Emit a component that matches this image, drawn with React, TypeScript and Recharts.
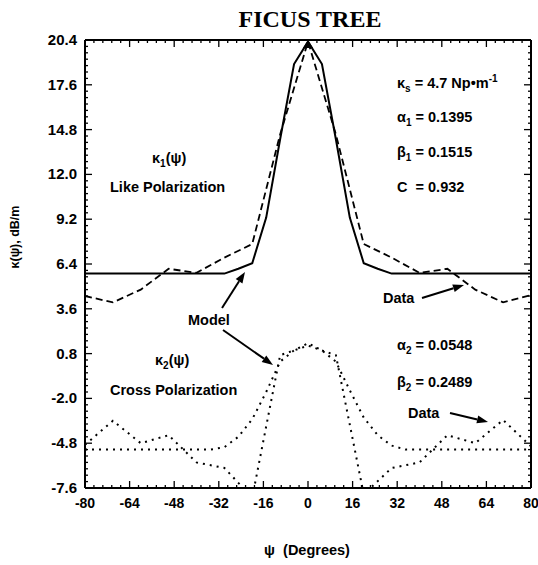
import React from 'react';
import { LineChart, Line, XAxis, YAxis, ReferenceDot } from 'recharts';

// ---------- data ----------
const likeModelAngles = [-80, -30, -25, -20, -15, -10, -5, 0, 5, 10, 15, 20, 25, 30, 80];
const likeModelValues = [5.8, 5.8, 6.1, 6.45, 9.3, 14.2, 18.9, 20.3, 18.9, 14.2, 9.3, 6.45, 6.1, 5.8, 5.8];

const dataAngles = [-80, -70, -60, -50, -40, -30, -20, -10, 0, 10, 20, 30, 40, 50, 60, 70, 80];
const likeDataValues = [4.4, 4.0, 4.8, 6.1, 5.85, 6.8, 7.65, 14.5, 20.3, 14.5, 7.65, 6.8, 5.85, 6.1, 4.8, 4.0, 4.45];
const crossDataValues = [-4.9, -3.4, -4.8, -4.3, -6.0, -6.35, -8.2, 0.7, 1.3, 0.7, -8.0, -6.35, -6.0, -4.3, -4.8, -3.35, -5.0];

const crossModelAngles = [-80, -35, -30, -25, -20, -15, -10, -5, 0, 5, 10, 15, 20, 25, 30, 35, 80];
const crossModelValues = [-5.2, -5.2, -5.05, -4.4, -3.3, -1.6, 0.3, 1.0, 1.45, 1.0, 0.3, -1.5, -3.2, -4.3, -4.95, -5.2, -5.2];

const xMajorTicks = [-80, -64, -48, -32, -16, 0, 16, 32, 48, 64, 80];
const yMajorTicks = [-7.6, -4.8, -2.0, 0.8, 3.6, 6.4, 9.2, 12.0, 14.8, 17.6, 20.4];
const xMinorPerMajor = 5;
const yMinorPerMajor = 7;

const toPoints = (xs: number[], ys: number[]) => xs.map((x, i) => ({ x, y: ys[i] }));
const likeModel = toPoints(likeModelAngles, likeModelValues);
const likeData = toPoints(dataAngles, likeDataValues);
const crossModel = toPoints(crossModelAngles, crossModelValues);
const crossData = toPoints(dataAngles, crossDataValues);

const subdivide = (majors: number[], n: number) => {
  const out: number[] = [];
  for (let i = 0; i < majors.length - 1; i++) {
    const a = majors[i], b = majors[i + 1];
    for (let k = 0; k < n; k++) out.push(+(a + ((b - a) * k) / n).toFixed(4));
  }
  out.push(majors[majors.length - 1]);
  return out;
};
const xAllTicks = subdivide(xMajorTicks, xMinorPerMajor);
const yAllTicks = subdivide(yMajorTicks, yMinorPerMajor);
const isMajorX = (v: number) => xMajorTicks.some((m) => Math.abs(m - v) < 1e-6);
const isMajorY = (v: number) => yMajorTicks.some((m) => Math.abs(m - v) < 1e-6);

const SANS = '"Liberation Sans", Arial, Helvetica, sans-serif';
const SERIF = '"Liberation Serif", "Times New Roman", serif';
const MAJ = 7;
const MIN = 3;

const BottomTick = (p: any) => {
  const { x, y, payload } = p;
  const major = isMajorX(payload.value);
  return (
    <g>
      <line x1={x} x2={x} y1={y} y2={y - (major ? MAJ : MIN)} stroke="#000" strokeWidth={1.3} />
      {major && (
        <text x={x} y={y + 20} textAnchor="middle" fontFamily={SANS} fontSize={14} fontWeight="bold" fill="#000">
          {payload.value}
        </text>
      )}
    </g>
  );
};
const TopTick = (p: any) => {
  const { x, y, payload } = p;
  const major = isMajorX(payload.value);
  return <line x1={x} x2={x} y1={y} y2={y + (major ? MAJ : MIN)} stroke="#000" strokeWidth={1.3} />;
};
const LeftTick = (p: any) => {
  const { x, y, payload } = p;
  const major = isMajorY(payload.value);
  return (
    <g>
      <line x1={x} x2={x + (major ? MAJ : MIN)} y1={y} y2={y} stroke="#000" strokeWidth={1.3} />
      {major && (
        <text x={x - 8} y={y + 5} textAnchor="end" fontFamily={SANS} fontSize={15} fontWeight="bold" fill="#000">
          {Number(payload.value).toFixed(1)}
        </text>
      )}
    </g>
  );
};
const RightTick = (p: any) => {
  const { x, y, payload } = p;
  const major = isMajorY(payload.value);
  return <line x1={x} x2={x - (major ? MAJ : MIN)} y1={y} y2={y} stroke="#000" strokeWidth={1.3} />;
};

const PeakShape = (p: any) => {
  const { cx, cy } = p;
  return <path d={`M${cx},${cy} L${cx - 5},${cy + 8} L${cx + 5},${cy + 8} Z`} fill="#000" />;
};

const Arrow = ({ x1, y1, x2, y2 }: { x1: number; y1: number; x2: number; y2: number }) => {
  const ang = Math.atan2(y2 - y1, x2 - x1);
  const L = 11, W = 4;
  const bx = x2 - L * Math.cos(ang), by = y2 - L * Math.sin(ang);
  const px = -Math.sin(ang) * W, py = Math.cos(ang) * W;
  return (
    <g>
      <line x1={x1} y1={y1} x2={bx} y2={by} stroke="#000" strokeWidth={2} />
      <path d={`M${x2},${y2} L${bx + px},${by + py} L${bx - px},${by - py} Z`} fill="#000" />
    </g>
  );
};

const txt = { fontFamily: SANS, fontSize: 14.5, fontWeight: 'bold', fill: '#000' } as const;
const sub = { fontSize: 10 } as const;

export default function App() {
  return (
    <div style={{ position: 'absolute', left: 0, top: 0, width: 538, height: 565, background: '#fff' }}>
      <LineChart width={538} height={565} margin={{ top: 39, right: 6, bottom: 47, left: 25 }}>
        <XAxis
          xAxisId={0}
          type="number"
          dataKey="x"
          domain={[-80, 80]}
          ticks={xAllTicks}
          interval={0}
          allowDataOverflow
          height={30}
          tickSize={0}
          tickMargin={0}
          tickLine={false}
          axisLine={{ stroke: '#000', strokeWidth: 2 }}
          tick={<BottomTick />}
        />
        <XAxis
          xAxisId="top"
          orientation="top"
          type="number"
          dataKey="x"
          domain={[-80, 80]}
          ticks={xAllTicks}
          interval={0}
          allowDataOverflow
          height={1}
          tickSize={0}
          tickMargin={0}
          tickLine={false}
          axisLine={{ stroke: '#000', strokeWidth: 2 }}
          tick={<TopTick />}
        />
        <YAxis
          yAxisId={0}
          type="number"
          domain={[-7.6, 20.4]}
          ticks={yAllTicks}
          interval={0}
          allowDataOverflow
          width={60}
          tickSize={0}
          tickMargin={0}
          tickLine={false}
          axisLine={{ stroke: '#000', strokeWidth: 2 }}
          tick={<LeftTick />}
        />
        <YAxis
          yAxisId="right"
          orientation="right"
          type="number"
          domain={[-7.6, 20.4]}
          ticks={yAllTicks}
          interval={0}
          allowDataOverflow
          width={1}
          tickSize={0}
          tickMargin={0}
          tickLine={false}
          axisLine={{ stroke: '#000', strokeWidth: 2 }}
          tick={<RightTick />}
        />
        <Line data={likeModel} dataKey="y" type="linear" stroke="#000" strokeWidth={2} dot={false} isAnimationActive={false} />
        <Line data={likeData} dataKey="y" type="linear" stroke="#000" strokeWidth={1.8} strokeDasharray="7 4" dot={false} isAnimationActive={false} />
        <Line data={crossModel} dataKey="y" type="linear" stroke="#000" strokeWidth={2} strokeDasharray="2 5" dot={false} isAnimationActive={false} />
        <Line data={crossData} dataKey="y" type="linear" stroke="#000" strokeWidth={2} strokeDasharray="2 5" dot={false} isAnimationActive={false} />
        <ReferenceDot x={0} y={20.4} r={4} shape={<PeakShape />} />
      </LineChart>
      <svg width={538} height={565} style={{ position: 'absolute', left: 0, top: 0, pointerEvents: 'none' }}>
        <text x={310} y={27} textAnchor="middle" fontFamily={SERIF} fontSize={24} fontWeight="bold" fill="#000">
          FICUS TREE
        </text>
        <text x={0} y={0} transform="translate(19,237) rotate(-90)" textAnchor="middle" fontFamily={SANS} fontSize={12.5} fontWeight="bold" fill="#000">
          κ(ψ), dB/m
        </text>
        <text x={307} y={555} textAnchor="middle" fontFamily={SANS} fontSize={14.5} fontWeight="bold" fill="#000">
          ψ{'\u00A0\u00A0'}(Degrees)
        </text>

        <text x={397} y={88} {...txt}>
          κ<tspan dy={4} {...sub}>s</tspan>
          <tspan dy={-4}> = 4.7 Np•m</tspan>
          <tspan dy={-6} {...sub}>-1</tspan>
        </text>
        <text x={397} y={122} {...txt}>
          α<tspan dy={4} {...sub}>1</tspan>
          <tspan dy={-4}> = 0.1395</tspan>
        </text>
        <text x={397} y={157} {...txt}>
          β<tspan dy={4} {...sub}>1</tspan>
          <tspan dy={-4}> = 0.1515</tspan>
        </text>
        <text x={397} y={192} {...txt}>
          C{'\u00A0\u00A0'}= 0.932
        </text>

        <text x={152} y={163} {...txt}>
          κ<tspan dy={4} {...sub}>1</tspan>
          <tspan dy={-4}>(ψ)</tspan>
        </text>
        <text x={110} y={192} {...txt}>Like Polarization</text>

        <text x={188} y={325} {...txt}>Model</text>
        <Arrow x1={222} y1={308} x2={245} y2={272} />
        <Arrow x1={223} y1={330} x2={273} y2={365} />

        <text x={383} y={303} {...txt}>Data</text>
        <Arrow x1={422} y1={298} x2={464} y2={285} />

        <text x={155} y={365} {...txt}>
          κ<tspan dy={4} {...sub}>2</tspan>
          <tspan dy={-4}>(ψ)</tspan>
        </text>
        <text x={110} y={395} {...txt}>Cross Polarization</text>

        <text x={397} y={350} {...txt}>
          α<tspan dy={4} {...sub}>2</tspan>
          <tspan dy={-4}> = 0.0548</tspan>
        </text>
        <text x={397} y={387} {...txt}>
          β<tspan dy={4} {...sub}>2</tspan>
          <tspan dy={-4}> = 0.2489</tspan>
        </text>

        <text x={408} y={418} {...txt}>Data</text>
        <Arrow x1={450} y1={413} x2={488} y2={422} />
      </svg>
    </div>
  );
}
